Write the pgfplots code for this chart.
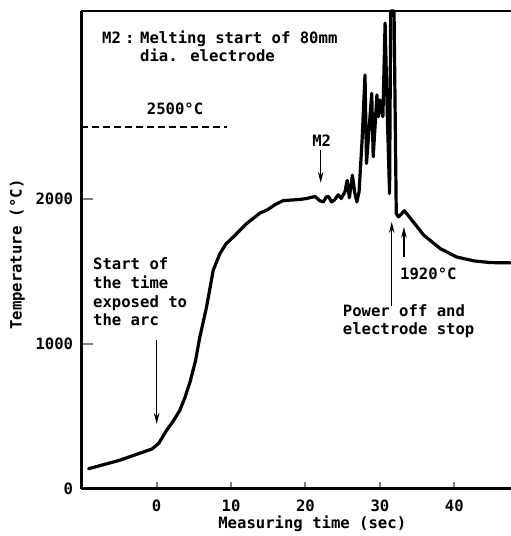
\documentclass[border=0pt]{standalone}
\usepackage{pgfplots}
\pgfplotsset{compat=1.18}
\usepackage{fontspec}
\setmainfont{DejaVu Sans Mono}
\usetikzlibrary{arrows.meta}
\begin{document}
\fontsize{15.6bp}{19bp}\selectfont\bfseries
\begin{tikzpicture}[font=\fontsize{15.6bp}{19bp}\selectfont\bfseries, >={Stealth[length=11bp,width=5.5bp]}]
\begin{axis}[
 at={(0,0)}, anchor=south west, scale only axis,
 width=429.7bp, height=477.7bp,
 xmin=-10.13, xmax=47.62, ymin=0, ymax=3300,
 axis lines*=left,
 axis line style={line width=3bp},
 clip=false,
 xtick={0,10,20,30,40}, ytick={0,1000,2000},
 tick align=inside,
 xtick style={line width=2bp, /pgfplots/major tick length=7bp},
 ytick style={line width=2bp, /pgfplots/major tick length=12bp},
 /pgf/number format/assume math mode=true,
 /pgf/number format/1000 sep={},
 xticklabel style={anchor=base, yshift=-22.5bp},
 yticklabel style={anchor=east, inner sep=0pt, xshift=-8bp},
 xlabel={Measuring time (sec)},
 ylabel={Temperature (°C)},
 xlabel style={at={(axis description cs:0.5375,-0.0823)}, anchor=base},
 ylabel style={at={(axis description cs:-0.1387,0.49)}, anchor=base},
]
\draw[line width=2.4bp] (rel axis cs:0,1) -- (rel axis cs:1,1);
\addplot[line width=3.2bp, line join=round, line cap=round] coordinates {
(-9.15,138) (-5.0,196) (-0.6,275) (0.3,315) (1.3,401) (2.2,465) (3.1,540) (3.8,630)
(4.5,740) (5.2,880) (5.8,1047) (6.7,1255) (7.6,1509) (8.5,1624) (9.3,1690)
(10.3,1739) (12.1,1832) (13.9,1905) (14.8,1924) (16.0,1965) (17.0,1990) (19.2,1998)
(20.2,2005) (20.7,2012) (21.3,2018) (21.9,1990) (22.4,1981) (22.8,2016) (23.1,2018)
(23.5,1981) (23.9,1995) (24.4,2030) (24.8,2005) (25.3,2050) (25.6,2130) (25.9,2010)
(26.3,2166) (26.6,2050) (26.9,1981) (27.2,2050) (27.6,2400) (28.0,2858) (28.2,2247)
(28.9,2731) (29.1,2293) (29.6,2720) (29.8,2570) (30.0,2685) (30.4,2570) (30.7,3216)
(31.0,2570) (31.3,2039) (31.45,3300) (31.9,3300) (32.2,1900) (32.5,1878) (33.3,1920)
(34.3,1855) (35.9,1751) (38.1,1659) (40.3,1601) (42.6,1574) (44.8,1562) (47.6,1560)
};
\addplot[line width=2bp, dash pattern=on 7bp off 4bp] coordinates {(-10.13,2500) (9.45,2500)};
\node[anchor=base west, inner sep=0pt] at (axis cs:-7.35,3078) {M2};
\node[anchor=base, inner sep=0pt] at (axis cs:-3.6,3078) {:};
\node[anchor=base west, inner sep=0pt] at (axis cs:-2.24,3078) {Melting start of 80mm};
\node[anchor=base west, inner sep=0pt] at (axis cs:-2.24,2951) {dia. electrode};
\node[anchor=base west, inner sep=0pt] at (axis cs:-1.34,2583) {2500°C};
\node[anchor=base, inner sep=0pt] at (axis cs:22.18,2363) {M2};
\draw[->, line width=1.5bp] (axis cs:22.04,2341) -- (axis cs:22.04,2113);
\node[anchor=base west, inner sep=0pt] at (axis cs:-8.56,1512) {Start of};
\node[anchor=base west, inner sep=0pt] at (axis cs:-8.56,1385) {the time};
\node[anchor=base west, inner sep=0pt] at (axis cs:-8.56,1251) {exposed to};
\node[anchor=base west, inner sep=0pt] at (axis cs:-8.56,1124) {the arc};
\draw[->, line width=1.5bp] (axis cs:0,1028) -- (axis cs:0,447);
\node[anchor=base west, inner sep=0pt] at (axis cs:25.0,1189) {Power off and};
\node[anchor=base west, inner sep=0pt] at (axis cs:25.0,1062) {electrode stop};
\draw[->, line width=1.5bp] (axis cs:31.59,1263) -- (axis cs:31.59,1843);
\node[anchor=base west, inner sep=0pt] at (axis cs:32.70,1447) {1920°C};
\draw[->, line width=1.5bp] (axis cs:33.23,1601) -- (axis cs:33.23,1809);
\end{axis}
\pgfresetboundingbox
\path (-81.3bp,-47.3bp) rectangle (429.7bp,488.7bp);
\end{tikzpicture}
\end{document}
